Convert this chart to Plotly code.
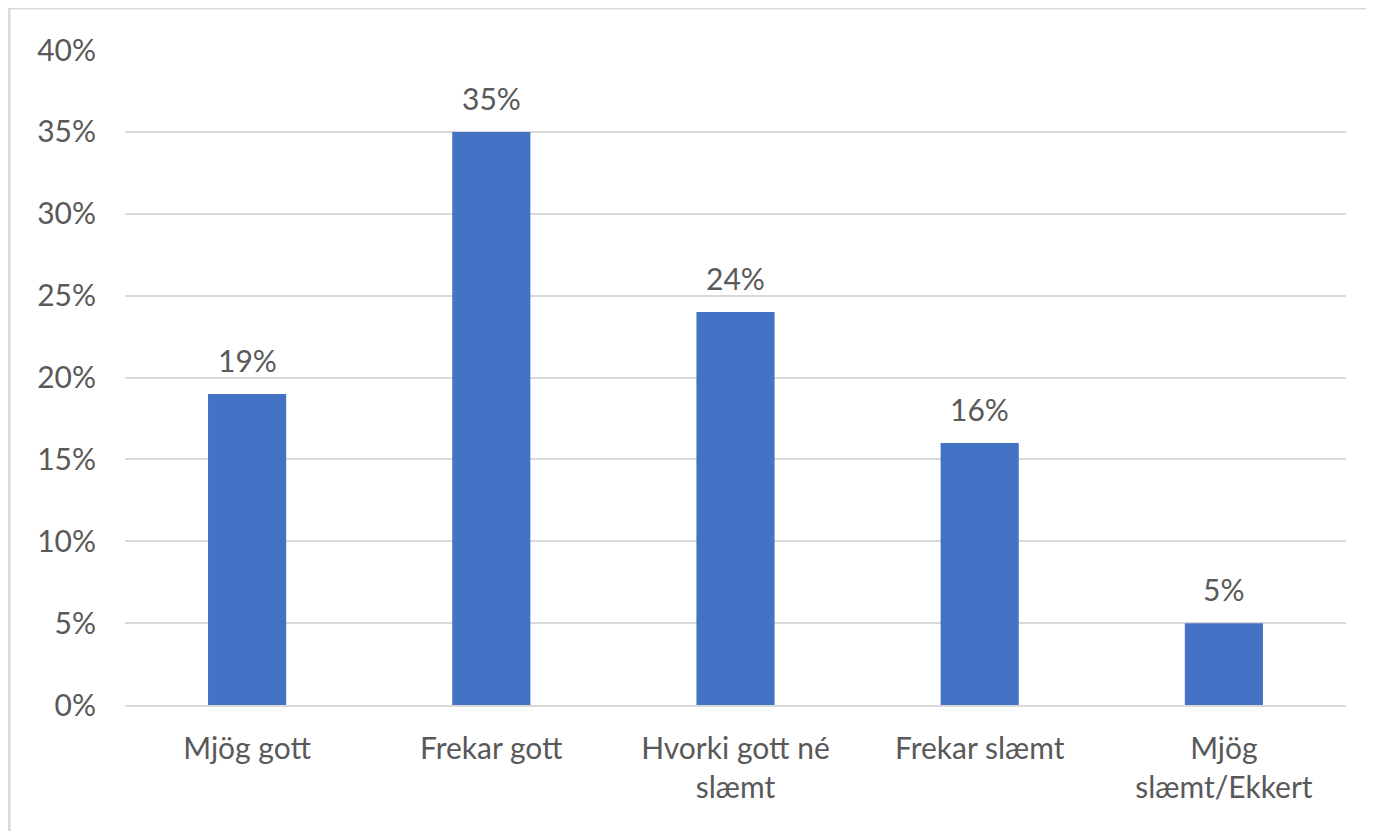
import plotly.graph_objects as go

categories = ["Mjög gott", "Frekar gott", "Hvorki gott né<br>slæmt", "Frekar slæmt", "Mjög<br>slæmt/Ekkert"]
values = [0.19, 0.35, 0.24, 0.16, 0.05]
labels = ["19%", "35%", "24%", "16%", "5%"]
tick_vals = [0, 0.05, 0.10, 0.15, 0.20, 0.25, 0.30, 0.35, 0.40]
tick_text = ["0%", "5%", "10%", "15%", "20%", "25%", "30%", "35%", "40%"]

W, H = 1374, 831
ml, mr, mt, mb = 117, 36, 42, 134
pw, ph = W - ml - mr, H - mt - mb

font = dict(family="Lato, Open Sans, sans-serif", size=30, color="#595959")

fig = go.Figure(go.Bar(
    x=categories, y=values,
    marker=dict(color="#4472C4", line=dict(width=0)),
    hoverinfo="x+y",
))

for c, v, t in zip(categories, values, labels):
    fig.add_annotation(x=c, y=v, text=t, showarrow=False, yanchor="bottom",
                       yshift=14, font=font)

fig.update_layout(
    width=W, height=H,
    margin=dict(l=ml, r=mr, t=mt, b=mb),
    paper_bgcolor="white", plot_bgcolor="white",
    bargap=0.68, showlegend=False, font=font,
)
fig.update_yaxes(range=[0, 0.40], tickvals=tick_vals, ticktext=tick_text,
                 showgrid=True, gridcolor="#D9D9D9", gridwidth=2,
                 zeroline=False, showline=False, ticks="", ticklabelstandoff=28,
                 tickfont=font)
fig.update_xaxes(showline=True, linecolor="#D9D9D9", linewidth=2, ticks="",
                 tickfont=font, ticklabelstandoff=16)

# chart border (left and top edges visible)
bx = (1 - ml) / pw
by = (H - mb - 0) / ph
fig.add_shape(type="line", xref="paper", yref="paper", x0=bx, x1=bx, y0=by, y1=-mb / ph - 0.05,
              line=dict(color="#D9D9D9", width=3))
fig.add_shape(type="line", xref="paper", yref="paper", x0=bx, x1=(W - ml) / pw + 0.05, y0=by, y1=by,
              line=dict(color="#D9D9D9", width=3))

fig.write_html("out.html")
